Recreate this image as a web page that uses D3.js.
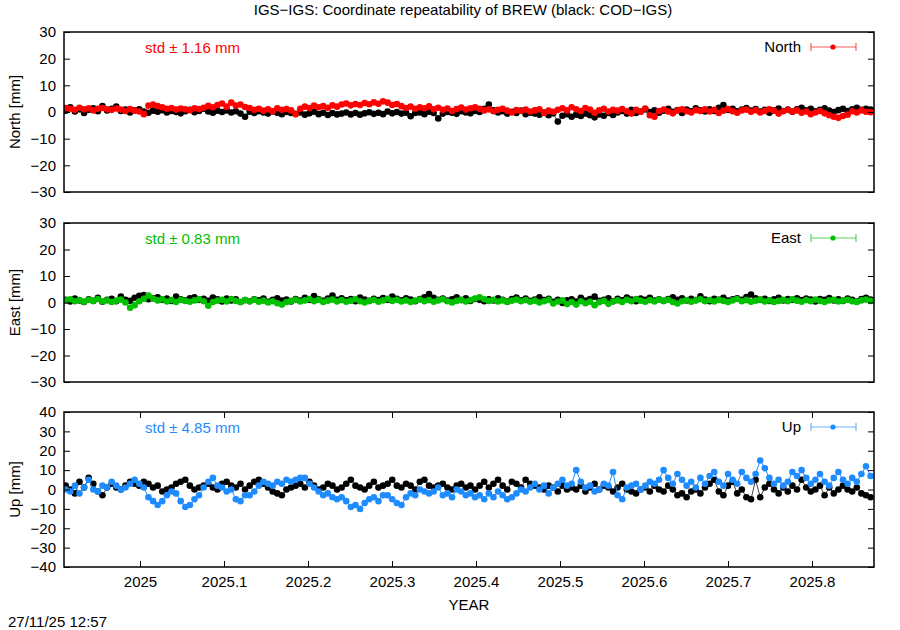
<!DOCTYPE html>
<html><head><meta charset="utf-8">
<script src="https://cdn.jsdelivr.net/npm/d3@7/dist/d3.min.js"></script>
<style>
body{margin:0;background:#fff;}
svg{display:block;font-family:"Liberation Sans",Arial,Helvetica,sans-serif;}
</style></head>
<body><svg id="c" width="900" height="630"></svg>
<script>
// ---- data ----
const title = "IGS\u2212IGS: Coordinate repeatability of BREW (black: COD\u2212IGS)";
const timestamp = "27/11/25 12:57";
const xTickValues = [2025, 2025.1, 2025.2, 2025.3, 2025.4, 2025.5, 2025.6, 2025.7, 2025.8];
const xDomain = [2024.9095, 2025.8738];
const tStart = 2024.9115;       // first epoch (decimal year)
const tStep = 2 / 365.25;       // sampling step (2 days)
const components = ["North", "East", "Up"];
const stdValues = [1.16, 0.83, 4.85];
const yDomains = [[-30, 30], [-30, 30], [-40, 40]];
const colors = ["#ff0000", "#00c000", "#1e8cff"];

const northIGS = [
 1.5,1.2,0.8,1.6,1.0,1.4,0.6,1.2,1.5,1.0,
 0.8,1.3,0.9,0.4,1.1,0.5,0.2,-0.8,2.4,2.8,
 2.2,1.8,1.2,1.5,0.9,1.3,1.0,0.7,1.4,1.1,
 1.6,2.3,1.8,2.6,3.2,2.0,3.5,2.4,2.8,1.9,
 1.5,0.8,1.2,0.5,1.0,0.3,1.4,0.8,1.1,0.6,
 -0.8,1.2,2.0,1.5,2.4,1.8,2.2,1.6,2.5,2.0,
 2.8,3.2,2.5,3.0,2.6,3.4,2.9,3.6,3.1,4.0,
 3.5,2.6,3.0,2.2,1.5,2.0,1.2,1.8,1.4,2.1,
 1.0,1.6,0.8,1.3,0.4,1.1,1.7,0.9,1.4,1.8,
 1.2,0.6,1.0,0.3,0.8,1.2,0.5,-0.2,0.7,0.4,
 0.9,0.2,0.6,1.0,-0.4,0.5,0.1,0.8,1.4,0.6,
 1.8,1.0,0.4,1.5,0.9,-0.3,0.6,1.2,0.2,0.8,
 0.5,1.1,0.3,-0.6,0.8,0.1,1.3,-1.2,-1.8,0.4,
 0.9,0.2,-0.5,0.6,1.0,0.3,-0.2,0.7,0.4,1.0,
 0.2,0.8,-0.4,0.5,1.1,0.3,-0.3,0.6,0.9,0.1,
 0.7,-0.2,0.4,1.0,0.5,-0.6,0.3,0.8,0.2,0.6,
 -0.3,0.2,-0.8,-0.2,0.4,-0.5,-1.2,-1.8,-2.2,-1.5,
 -1.0,0.3,-0.2,0.6,0.1,-0.1];
const northCOD = [
 0.5,1.8,0.2,1.0,-0.4,0.8,1.4,0.3,2.2,0.6,
 1.2,2.0,0.4,0.9,-0.2,0.6,1.0,0.2,-0.3,0.5,
 0.1,0.7,-0.2,0.4,0.0,-0.5,0.3,0.8,-0.1,0.4,
 1.2,0.2,-0.3,0.5,0.0,0.6,-0.2,0.3,-0.6,-1.8,
 0.1,-0.4,0.3,-0.2,-0.6,0.2,-0.3,-0.8,0.0,-0.4,
 -0.7,-0.2,-1.0,-0.5,0.1,-0.8,-0.3,-1.1,-0.4,-0.9,
 -0.6,-0.2,-0.9,-0.4,-1.0,-0.5,-0.1,-0.7,-0.3,-0.8,
 0.2,-0.5,0.0,-0.6,-0.3,-1.6,-0.4,-0.2,-0.8,0.1,
 -0.4,-2.4,-0.6,0.0,-0.3,-0.7,0.3,-0.2,-0.5,0.4,
 0.0,1.2,2.8,0.6,-0.2,0.3,-0.6,0.1,-0.4,0.5,
 -0.8,-0.3,-0.6,-1.0,-0.2,-1.2,-0.5,-3.6,-1.4,-0.8,
 -1.8,-1.0,-1.5,-0.6,-1.2,-2.0,-0.9,-1.4,-0.4,-1.1,
 -0.2,0.4,-0.6,0.8,-0.4,0.2,1.0,0.0,0.6,-0.3,
 0.5,1.2,0.1,0.7,-0.4,0.9,0.3,1.4,0.6,0.2,
 1.0,0.4,1.6,2.6,0.8,1.2,0.3,0.9,1.5,0.5,
 1.1,0.2,0.8,-0.3,0.6,1.3,0.4,0.9,0.1,1.0,
 1.6,0.6,1.2,0.3,0.8,1.4,0.5,0.0,0.7,1.2,
 0.4,1.0,1.6,0.8,1.2,0.9];
const eastIGS = [
 0.8,1.2,0.5,0.9,0.3,1.0,0.6,1.3,0.4,0.8,
 0.2,0.7,1.1,0.0,-2.0,-1.0,0.5,1.4,2.6,1.5,
 0.8,1.2,0.4,0.9,0.2,1.0,0.6,0.3,0.8,1.2,
 0.5,-1.2,0.2,0.7,1.0,0.4,1.3,0.6,0.2,0.9,
 0.5,1.1,0.3,0.7,0.0,0.5,-0.3,-0.8,0.2,0.6,
 1.0,0.4,0.8,1.3,0.5,1.0,0.2,0.7,1.1,0.4,
 0.9,0.3,0.7,1.2,0.5,0.0,0.6,1.0,0.3,0.8,
 1.4,0.6,1.0,0.4,0.8,0.2,0.7,1.1,0.5,0.9,
 0.3,0.8,1.2,0.5,0.0,0.6,1.0,0.4,0.9,1.5,
 2.0,1.2,0.6,1.0,0.4,0.8,0.2,0.7,1.1,0.5,
 0.9,0.3,0.7,0.0,0.5,1.0,-0.4,0.4,0.8,-0.6,
 0.2,-0.8,0.5,-0.3,0.3,-1.0,0.1,0.6,-0.5,0.4,
 0.8,0.2,1.0,0.5,1.3,0.7,0.3,0.9,0.4,1.1,
 0.6,1.0,0.2,-0.4,0.5,0.9,0.3,0.8,1.2,0.5,
 0.9,0.4,1.0,0.6,0.2,0.8,1.3,0.5,0.9,0.3,
 0.7,1.1,0.4,0.8,0.2,0.6,1.0,0.5,1.2,0.7,
 0.3,0.9,0.5,1.1,0.6,0.2,0.8,1.0,0.4,0.7,
 1.0,0.5,0.2,0.8,1.1,0.6];
const eastCOD = [
 1.0,0.4,1.5,0.8,0.2,1.2,0.6,1.8,0.3,1.0,
 1.4,0.5,2.2,1.0,0.6,1.8,2.5,2.8,1.2,1.6,
 2.0,1.0,1.5,0.6,2.2,1.2,0.8,1.6,2.0,1.0,
 1.4,0.6,1.9,1.2,0.4,1.5,0.8,1.2,0.2,0.9,
 0.5,1.2,0.8,1.5,0.3,1.0,1.6,0.7,1.1,0.4,
 1.3,0.7,1.8,1.0,2.4,1.2,0.6,1.5,2.6,1.0,
 1.6,0.8,1.3,0.5,1.9,1.1,0.6,1.4,0.9,1.7,
 1.0,2.2,1.4,0.8,1.6,1.1,0.5,1.3,2.0,3.2,
 1.8,1.0,1.5,0.7,1.2,2.0,0.9,1.6,0.6,1.3,
 1.0,0.5,1.2,0.8,1.6,1.0,0.4,1.3,1.9,0.8,
 1.5,0.6,1.1,2.0,0.9,1.4,0.3,1.0,-0.2,0.8,
 1.2,0.4,1.8,0.7,1.3,2.2,0.6,1.0,1.6,0.5,
 1.4,0.8,1.9,1.1,0.5,1.5,1.0,1.8,0.7,1.2,
 0.6,1.3,2.0,1.0,1.6,0.8,1.4,0.9,2.3,1.1,
 0.5,1.4,1.0,1.8,0.7,1.2,1.6,1.0,2.1,3.0,
 1.6,1.0,1.4,0.6,1.2,1.8,0.8,1.3,1.0,1.6,
 0.9,1.5,1.1,0.4,1.3,1.0,1.7,0.8,1.2,0.6,
 1.5,1.0,0.4,1.3,1.8,1.1];
const upIGS = [
 0,-1,2,-2,1,5,0,-1,2,1,
 4,2,0,1,3,5,3,1,-4,-6,
 -8,-6,-3,-1,-2,-6,-9,-8,-5,-3,
 1,4,6,2,1,-1,0,-5,-6,-3,
 -3,-1,2,4,3,2,4,3,5,4,
 5,6,6,3,1,-1,-3,-2,-4,-5,
 -4,-6,-9,-8,-10,-7,-5,-4,-6,-3,
 -3,-5,-7,-8,-4,-2,-3,0,-1,-2,
 -1,1,-3,-2,-4,0,-1,-3,-2,-4,
 -3,-5,-2,-4,-1,-3,-5,-4,-2,0,
 -1,1,3,0,2,-2,1,3,5,2,
 3,10,4,1,2,-1,0,3,2,9,
 -3,-5,1,2,3,0,2,4,3,5,
 10,6,3,8,5,2,4,1,6,3,
 7,9,4,2,8,5,3,9,6,4,
 8,15,11,6,3,5,2,4,9,7,
 10,6,3,5,8,4,2,6,9,5,
 3,6,4,8,12,7];
const upCOD = [
 2,0,-2,4,1,6,3,-1,-3,1,
 3,1,0,2,4,3,2,4,3,1,
 2,-1,0,1,3,4,5,2,0,1,
 2,3,1,0,3,4,2,1,3,0,
 2,4,5,3,1,-1,-2,-3,0,1,
 2,3,1,4,2,0,1,3,2,0,
 1,3,5,2,1,0,2,4,1,2,
 3,5,2,1,3,2,0,4,5,2,
 1,2,3,1,0,2,3,1,2,0,
 2,4,1,3,5,2,0,4,3,1,
 5,3,2,1,0,2,1,-1,2,0,
 1,0,2,-1,1,3,0,2,1,-1,
 1,3,0,-1,-2,0,1,-1,2,0,
 -1,2,0,-3,-2,-4,-1,0,-2,1,
 3,5,-1,-3,2,4,-2,0,-4,-5,
 5,-4,1,3,0,-2,1,-1,2,0,
 5,1,-1,0,2,-3,1,-2,0,2,
 0,-1,1,-2,-3,-4];
const seriesIGS = [northIGS, eastIGS, upIGS];
const seriesCOD = [northCOD, eastCOD, upCOD];

// ---- layout ----
const svg = d3.select("#c");
const left = 64, right = 874;
const panels = [{top: 32, bottom: 192}, {top: 223, bottom: 382}, {top: 412, bottom: 567}];
const x = d3.scaleLinear().domain(xDomain).range([left, right]);
const FS = 15;
const FF = "Liberation Sans, Arial, sans-serif";

svg.append("text").attr("x", 463).attr("y", 15).attr("text-anchor", "middle")
  .attr("font-size", FS).text(title);

const defs = svg.append("defs");

panels.forEach((p, k) => {
  const y = d3.scaleLinear().domain(yDomains[k]).range([p.bottom, p.top]);
  defs.append("clipPath").attr("id", "clip" + k).append("rect")
    .attr("x", left).attr("y", p.top).attr("width", right - left).attr("height", p.bottom - p.top);

  const g = svg.append("g");
  const plot = g.append("g").attr("clip-path", `url(#clip${k})`);

  const drawSeries = (vals, col, lineCol) => {
    const pts = vals.map((v, i) => [tStart + i * tStep, v]);
    plot.append("path").datum(pts)
      .attr("fill", "none").attr("stroke", lineCol).attr("stroke-width", 1)
      .attr("d", d3.line().x(d => x(d[0])).y(d => y(d[1])));
    plot.append("g").selectAll("circle").data(pts).join("circle")
      .attr("cx", d => x(d[0])).attr("cy", d => y(d[1])).attr("r", 3.3)
      .attr("fill", col);
  };
  drawSeries(seriesCOD[k], "#000", "#444");
  drawSeries(seriesIGS[k], colors[k], colors[k]);

  // y axes (inward ticks, mirrored)
  const yTicks = d3.range(yDomains[k][0], yDomains[k][1] + 1, 10);
  const fmt = d => (d < 0 ? "\u2212" + Math.abs(d) : String(d));
  const yl = g.append("g").attr("transform", `translate(${left},0)`)
    .call(d3.axisLeft(y).tickValues(yTicks).tickFormat(fmt).tickSizeInner(-6).tickSizeOuter(0).tickPadding(8));
  const yr = g.append("g").attr("transform", `translate(${right},0)`)
    .call(d3.axisRight(y).tickValues(yTicks).tickFormat("").tickSizeInner(-6).tickSizeOuter(0));
  [yl, yr].forEach(a => {
    a.select(".domain").remove();
    a.selectAll(".tick line").attr("stroke", "#000").attr("stroke-width", 1);
    a.selectAll("text").attr("font-size", FS).attr("font-family", FF).attr("fill", "#000");
  });

  if (k === 2) {
    const xb = g.append("g").attr("transform", `translate(0,${p.bottom})`)
      .call(d3.axisBottom(x).tickValues(xTickValues).tickFormat(d => String(+d.toFixed(1)))
        .tickSizeInner(-6).tickSizeOuter(0).tickPadding(9));
    const xt = g.append("g").attr("transform", `translate(0,${p.top})`)
      .call(d3.axisTop(x).tickValues(xTickValues).tickFormat("").tickSizeInner(-6).tickSizeOuter(0));
    [xb, xt].forEach(a => {
      a.select(".domain").remove();
      a.selectAll(".tick line").attr("stroke", "#000").attr("stroke-width", 1);
      a.selectAll("text").attr("font-size", FS).attr("font-family", FF).attr("fill", "#000");
    });
  }

  // border
  g.append("rect").attr("x", left).attr("y", p.top).attr("width", right - left)
    .attr("height", p.bottom - p.top).attr("fill", "none").attr("stroke", "#000").attr("stroke-width", 1.5);

  // y label
  const cy = (p.top + p.bottom) / 2;
  g.append("text").attr("transform", `translate(20,${cy}) rotate(-90)`)
    .attr("text-anchor", "middle").attr("font-size", FS).text(components[k] + " [mm]");

  // std label
  g.append("text").attr("x", 145).attr("y", p.top + 21).attr("font-size", FS)
    .attr("fill", colors[k]).text("std \u00b1 " + stdValues[k].toFixed(2) + " mm");

  // legend
  const ly = p.top + 15;
  g.append("text").attr("x", 801).attr("y", ly + 5).attr("text-anchor", "end")
    .attr("font-size", FS).text(components[k]);
  const lg = g.append("g").attr("stroke", colors[k]).attr("stroke-opacity", 0.65).attr("stroke-width", 1.2);
  lg.append("line").attr("x1", 811).attr("x2", 856).attr("y1", ly).attr("y2", ly);
  lg.append("line").attr("x1", 811).attr("x2", 811).attr("y1", ly - 4).attr("y2", ly + 4);
  lg.append("line").attr("x1", 856).attr("x2", 856).attr("y1", ly - 4).attr("y2", ly + 4);
  g.append("circle").attr("cx", 833).attr("cy", ly).attr("r", 2.6).attr("fill", colors[k]);
});

svg.append("text").attr("x", 469).attr("y", 610).attr("text-anchor", "middle")
  .attr("font-size", FS).text("YEAR");
svg.append("text").attr("x", 8).attr("y", 627).attr("font-size", FS).text(timestamp);
</script></body></html>
